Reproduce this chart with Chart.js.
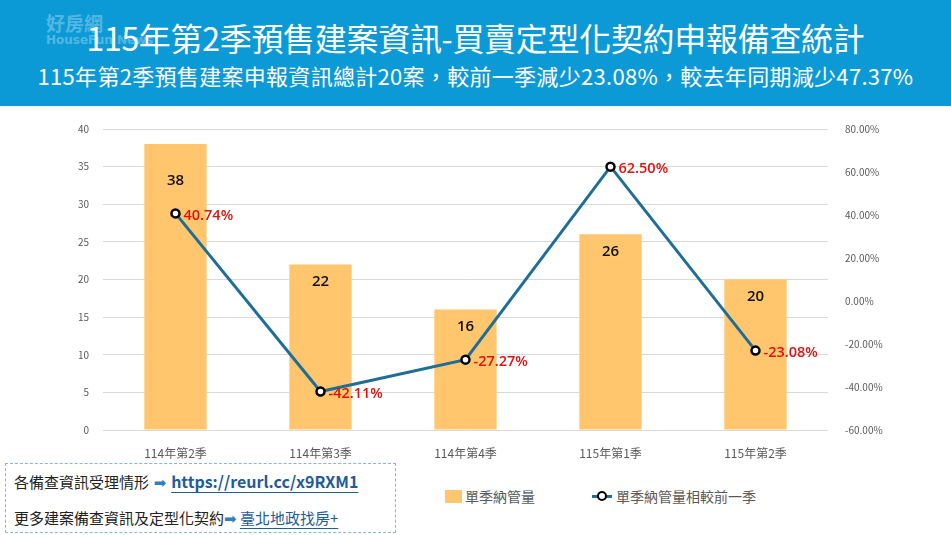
<!DOCTYPE html>
<html lang="zh-Hant">
<head>
<meta charset="utf-8">
<script src="https://cdn.jsdelivr.net/npm/chart.js@4/dist/chart.umd.min.js"></script>
<style>
  html, body { margin: 0; padding: 0; background: #fff; }
  body { width: 951px; height: 535px; position: relative; overflow: hidden;
         font-family: 'Noto Sans CJK TC', 'Open Sans', sans-serif; }
  .header { position: absolute; left: 0; top: 0; width: 951px; height: 106px; background: #0c9ad7; }
  .title { position: absolute; left: 0; width: 951px; top: 15px; text-align: center;
           color: #fff; font-size: 32px; line-height: 44px; letter-spacing: -0.3px; }
  .subtitle { position: absolute; left: 0; width: 951px; top: 59px; text-align: center;
              color: #fff; font-size: 22px; line-height: 32px; letter-spacing: 0.3px; }
  .mark { position: absolute; left: 46px; top: 12px; color: rgba(255,255,255,0.3);
          font-size: 19px; line-height: 22px; font-weight: bold; }
  .mark small { display: block; font-family: 'DejaVu Sans', sans-serif; font-size: 12px; line-height: 12px; }
  #wrap { position: absolute; left: 0; top: 108px; width: 951px; height: 354px; }
  .note { position: absolute; left: 5px; top: 463px; width: 389px; height: 68px;
          border: 1px dashed #8db3cf; font-size: 15px; color: #222; }
  .note div { position: absolute; left: 8px; white-space: nowrap; line-height: 20px; }
  .note a { color: #1f5c99; text-decoration: underline; text-underline-offset: 4px; }
  .arrow { color: #2f7fc4; font-family: 'DejaVu Sans', sans-serif; font-size: 15px; }
  .legend { position: absolute; top: 486px; font-size: 14px; color: #595959; white-space: nowrap; line-height: 20px; }
  .sw { display: inline-block; width: 17px; height: 13px; background: #ffc66d; vertical-align: -1px; margin-right: 3px; }
  .ln { display: inline-block; position: relative; width: 20px; height: 13px; vertical-align: -1px; margin-right: 4px; }
  .ln:before { content: ''; position: absolute; left: 0; right: 0; top: 5px; height: 3px; background: #1e6e98; }
  .ln:after { content: ''; position: absolute; left: 5px; top: 1px; width: 6px; height: 6px;
              border: 2px solid #000; border-radius: 50%; background: #fff; }
</style>
</head>
<body>
<div class="header">
  <div class="mark">好房網<small>HouseFun News</small></div>
  <div class="title">115年第2季預售建案資訊-買賣定型化契約申報備查統計</div>
  <div class="subtitle">115年第2季預售建案申報資訊總計20案，較前一季減少23.08%，較去年同期減少47.37%</div>
</div>
<div id="wrap"><canvas id="chart"></canvas></div>
<div class="note">
  <div style="top:7px">各備查資訊受理情形<span class="arrow"> ➡ </span><a style="font-weight:bold;font-size:16px">https://reurl.cc/x9RXM1</a></div>
  <div style="top:44px">更多建案備查資訊及定型化契約<span class="arrow">➡</span> <a>臺北地政找房+</a></div>
</div>
<div class="legend" style="left:445px"><span class="sw"></span>單季納管量</div>
<div class="legend" style="left:592px"><span class="ln"></span>單季納管量相較前一季</div>
<script>
const quarters = ['114年第2季', '114年第3季', '114年第4季', '115年第1季', '115年第2季'];
const caseCounts = [38, 22, 16, 26, 20];
const changePct = [40.74, -42.11, -27.27, 62.50, -23.08];

const leftTicks = { min: 0, max: 40, step: 5 };
const rightTicks = { min: -60, max: 80, step: 20 };

// draws the bar numbers and the red % labels, like Excel data labels
const labelPlugin = {
  id: 'labels',
  afterDatasetsDraw(chart) {
    const c = chart.ctx;
    c.save();
    c.textBaseline = 'middle';
    chart.getDatasetMeta(1).data.forEach((bar, i) => {
      const shift = i === 0 ? 37 : 17;
      c.font = '600 15px "Open Sans", sans-serif';
      c.fillStyle = '#111';
      c.textAlign = 'center';
      c.fillText(caseCounts[i], bar.x, bar.y + shift);
    });
    chart.getDatasetMeta(0).data.forEach((pt, i) => {
      c.font = '600 14.5px "Open Sans", sans-serif';
      c.fillStyle = '#e0120f';
      c.textAlign = 'left';
      c.fillText(changePct[i].toFixed(2) + '%', pt.x + 8, pt.y + 2);
    });
    c.restore();
  }
};

Chart.defaults.font.family = "'Noto Sans CJK TC', 'Open Sans', sans-serif";
Chart.defaults.color = '#595959';

new Chart(document.getElementById('chart'), {
  data: {
    labels: quarters,
    datasets: [
      {
        type: 'line',
        label: '單季納管量相較前一季',
        data: changePct,
        yAxisID: 'yPct',
        borderColor: '#1e6e98',
        borderWidth: 3,
        pointRadius: 4,
        pointBorderWidth: 2.5,
        pointBackgroundColor: '#fff',
        pointBorderColor: '#000',
        tension: 0,
        order: 0
      },
      {
        type: 'bar',
        label: '單季納管量',
        data: caseCounts,
        yAxisID: 'y',
        backgroundColor: '#ffc66d',
        categoryPercentage: 0.43,
        barPercentage: 1,
        order: 1
      }
    ]
  },
  options: {
    responsive: true,
    maintainAspectRatio: false,
    animation: false,
    layout: { padding: { top: 21, left: 0, right: 0, bottom: 0 } },
    plugins: { legend: { display: false }, tooltip: { enabled: false } },
    scales: {
      x: {
        grid: { display: false },
        border: { display: false },
        ticks: { font: { size: 12 }, padding: 8 },
        afterFit: (s) => { s.height = 32; }
      },
      y: {
        position: 'left',
        min: leftTicks.min,
        max: leftTicks.max,
        ticks: { stepSize: leftTicks.step, font: { size: 10 }, padding: 14 },
        grid: { color: '#d9d9d9', lineWidth: 1, drawTicks: false },
        border: { display: false },
        afterFit: (s) => { s.width = 103; }
      },
      yPct: {
        position: 'right',
        min: rightTicks.min,
        max: rightTicks.max,
        ticks: {
          stepSize: rightTicks.step,
          font: { size: 10 },
          padding: 9,
          callback: (v) => v.toFixed(2) + '%'
        },
        grid: { display: false },
        border: { display: false },
        afterFit: (s) => { s.width = 123; }
      }
    }
  },
  plugins: [labelPlugin]
});
</script>
</body>
</html>
